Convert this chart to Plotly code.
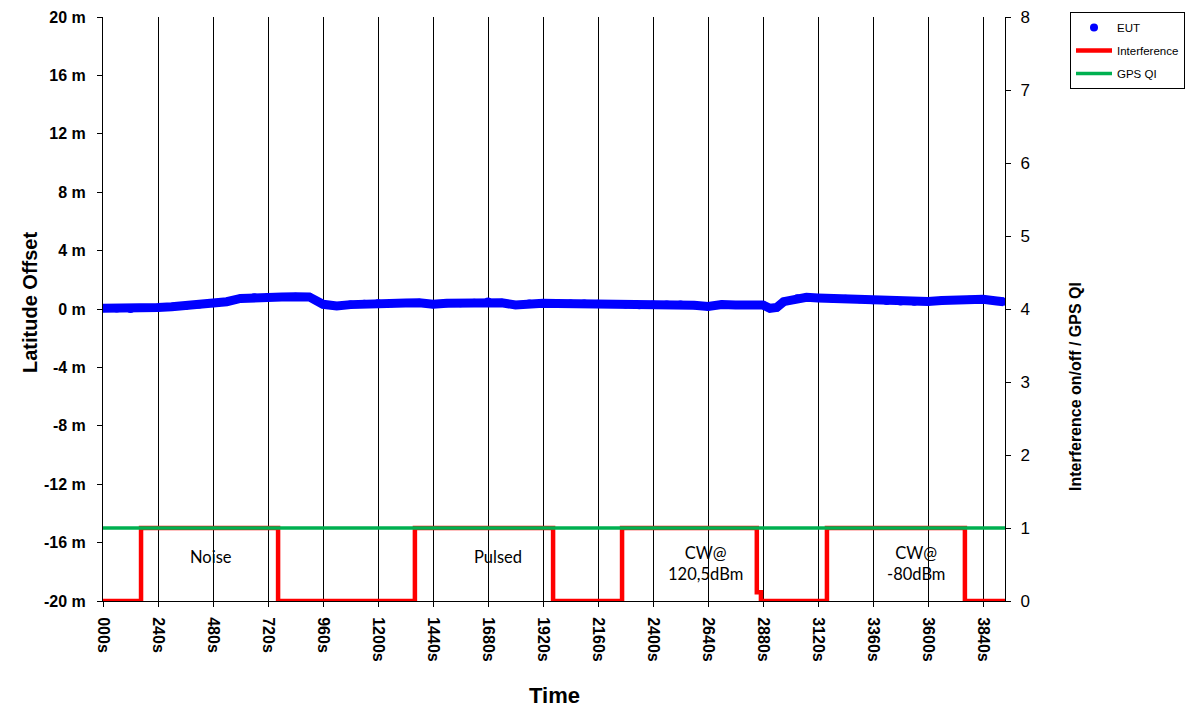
import plotly.graph_objects as go

# ---------------- data ----------------
eut_time = [0, 60, 120, 180, 240, 300, 360, 420, 480, 540, 600, 660, 720, 780, 840, 900,
            960, 1020, 1080, 1140, 1200, 1260, 1320, 1380, 1440, 1500, 1560, 1620, 1680,
            1740, 1800, 1860, 1920, 1980, 2040, 2100, 2160, 2220, 2280, 2340, 2400, 2460,
            2520, 2580, 2640, 2700, 2760, 2820, 2880, 2910, 2940, 2970, 3030, 3070, 3120,
            3180, 3240, 3300, 3360, 3420, 3480, 3540, 3600, 3660, 3720, 3780, 3840, 3900, 3930]
eut_offset = [0.05, 0.03, 0.0, 0.06, 0.11, 0.16, 0.21, 0.3, 0.39, 0.5, 0.72, 0.8, 0.82,
              0.82, 0.84, 0.83, 0.32, 0.2, 0.3, 0.36, 0.39, 0.4, 0.41, 0.42, 0.32, 0.4,
              0.4, 0.42, 0.52, 0.42, 0.28, 0.37, 0.39, 0.38, 0.38, 0.37, 0.36, 0.35, 0.3,
              0.26, 0.3, 0.3, 0.3, 0.25, 0.17, 0.3, 0.27, 0.27, 0.27, 0.05, 0.1, 0.5, 0.73,
              0.8, 0.76, 0.72, 0.7, 0.66, 0.6, 0.55, 0.52, 0.5, 0.52, 0.58, 0.62, 0.63,
              0.67, 0.55, 0.5]

intf_time = [0, 166, 764, 1361, 1964, 2265, 2853, 2871, 3159, 3761, 3936]
intf_state = [0, 1, 0, 1, 0, 1, 0.12, 0, 1, 0, 0]

gps_time = [0, 3936]
gps_qi = [1, 1]

x_tickvals = list(range(0, 3841, 240))
x_ticktext = [f"{v:03d}s" if v == 0 else f"{v}s" for v in x_tickvals]
y_tickvals = list(range(-20, 21, 4))
y_ticktext = [f"{v} m" for v in y_tickvals]
y2_tickvals = list(range(0, 9))

labels = ["Noise", "Pulsed", "CW@<br>120,5dBm", "CW@<br>-80dBm"]

# ---------------- layout helpers (pixel -> paper) ----------------
W, H = 1187, 710
L, R, T, B = 103, 1005, 17, 601
def px(x):
    return (x - L) / (R - L)
def py(y):
    return (B - y) / (B - T)

ARIAL = "Arial, Liberation Sans, sans-serif"

fig = go.Figure()

fig.add_trace(go.Scatter(x=eut_time, y=eut_offset, mode="lines",
                         line=dict(color="#0000FF", width=9), showlegend=False,
                         legendgroup="eut", hoverinfo="skip"))
fig.add_trace(go.Scatter(x=eut_time, y=eut_offset, mode="markers", name="EUT",
                         marker=dict(color="#0000FF", size=8), legendgroup="eut"))
fig.add_trace(go.Scatter(x=intf_time, y=intf_state, mode="lines", name="Interference",
                         line=dict(color="#FF0000", width=4.5, shape="hv"), yaxis="y2",
                         legendgroup="intf"))
fig.add_trace(go.Scatter(x=gps_time, y=gps_qi, mode="lines", name="GPS QI",
                         line=dict(color="#00B050", width=3.5), yaxis="y2",
                         legendgroup="gps"))

# white label boxes (above grid, below traces)
boxes = [(166, 256, 532, 582), (450, 546, 530, 582), (652, 756, 532, 591), (830, 962, 532, 595)]
for x0, x1, y0, y1 in boxes:
    fig.add_shape(type="rect", xref="paper", yref="paper",
                  x0=px(x0), x1=px(x1), y0=py(y1), y1=py(y0),
                  fillcolor="white", line=dict(width=0), layer="between")

label_pos = [(211, 557), (498, 557), (705, 563), (916, 563)]
for text, (x, y) in zip(labels, label_pos):
    fig.add_annotation(x=px(x), y=py(y), xref="paper", yref="paper", text=text,
                       showarrow=False, font=dict(family="Lato, Noto Sans, sans-serif",
                                                  size=16.5, color="black"),
                       xanchor="center", yanchor="middle")

# axis titles
fig.add_annotation(x=px(30), y=py(303), xref="paper", yref="paper", text="Latitude Offset",
                   textangle=-90, showarrow=False, xanchor="center", yanchor="middle",
                   font=dict(family=ARIAL, size=20, color="black", weight="bold"))
fig.add_annotation(x=px(1075), y=py(387), xref="paper", yref="paper",
                   text="Interference on/off / GPS QI", textangle=-90, showarrow=False,
                   xanchor="center", yanchor="middle",
                   font=dict(family=ARIAL, size=16, color="black", weight="bold"))
fig.add_annotation(x=px(554), y=py(695), xref="paper", yref="paper", text="Time",
                   showarrow=False, xanchor="center", yanchor="middle",
                   font=dict(family=ARIAL, size=22, color="black", weight="bold"))

fig.update_layout(
    width=W, height=H,
    margin=dict(l=L, r=W - R, t=T, b=H - B, pad=0, autoexpand=False),
    plot_bgcolor="white", paper_bgcolor="white",
    showlegend=True,
    legend=dict(xref="container", yref="container", x=1070 / W, y=1 - 12 / H,
                xanchor="left", yanchor="top",
                bordercolor="black", borderwidth=1, bgcolor="white",
                font=dict(family=ARIAL, size=11.5, color="black"),
                tracegroupgap=4, itemwidth=36),
    xaxis=dict(range=[0, 3936], tickvals=x_tickvals, ticktext=x_ticktext,
               tickangle=90, ticks="outside", ticklen=5, tickcolor="black",
               ticklabelstandoff=7,
               showline=True, linecolor="black", linewidth=1, automargin=False,
               showgrid=True, gridcolor="black", gridwidth=1, zeroline=False,
               tickfont=dict(family=ARIAL, size=16, color="black", weight="bold")),
    yaxis=dict(range=[-20, 20], tickvals=y_tickvals, ticktext=y_ticktext,
               ticks="outside", ticklen=5, tickcolor="black", ticklabelstandoff=8,
               showline=True, linecolor="black", linewidth=1, automargin=False,
               showgrid=False, zeroline=False,
               tickfont=dict(family=ARIAL, size=16, color="black", weight="bold")),
    yaxis2=dict(range=[0, 8], tickvals=y2_tickvals, overlaying="y", side="right",
                ticks="outside", ticklen=5, tickcolor="black", ticklabelstandoff=6,
                showline=True, linecolor="black", linewidth=1, automargin=False,
                showgrid=False, zeroline=False,
                tickfont=dict(family=ARIAL, size=17, color="black")),
)

fig.write_html("out.html", config={"displayModeBar": False},
               post_script="document.body.style.margin='0';")
